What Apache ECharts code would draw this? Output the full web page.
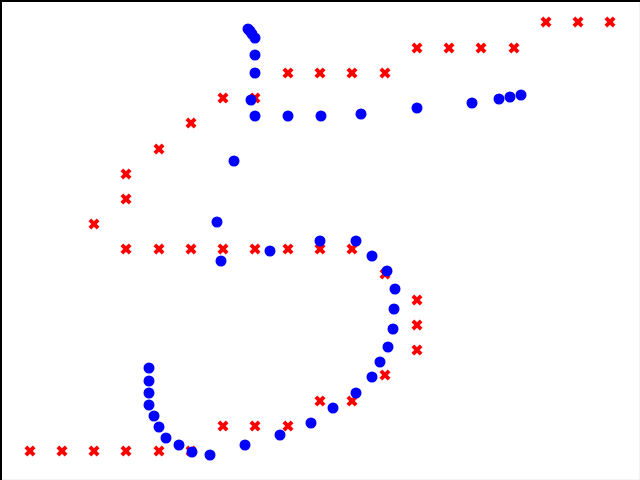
<!DOCTYPE html>
<html>
<head>
<meta charset="utf-8">
<script src="https://cdn.jsdelivr.net/npm/echarts@6/dist/echarts.min.js"></script>
<style>html,body{margin:0;padding:0;background:#fff}#c{width:640px;height:480px}</style>
</head>
<body>
<div id="c"></div>
<script>
// red cross points [x, y]
const crossX = [546,578,610, 417,449,481,514, 288,320,352,385, 223,255, 191, 159, 126, 126, 94,
  126,159,191,223,255,288,320,352, 385, 417, 417, 417, 385, 320,352, 223,255,288,
  30,62,94,126,159,191];
const crossY = [22,22,22, 48,48,48,48, 73,73,73,73, 98,98, 123, 149, 174, 199, 224,
  249,249,249,249,249,249,249,249, 274, 300, 325, 350, 375, 401,401, 426,426,426,
  451,451,451,451,451,451];
// blue circle points
const dotX = [248,250,252,255, 255,255,251,255,288,321,361,417,472,499,510,521,
  234,217,221,270,320,356,372,387,395,394,393,388,380,372,356,333,311,280,245,210,192,179,166,159,154,149,149,149,149];
const dotY = [29,31,34,38, 55,73,100,116,116,116,114,108,103,99,97,95,
  161,222,261,251,241,241,256,271,289,309,329,347,362,377,393,408,423,435,445,455,452,445,438,427,416,405,393,381,368];

const zip = (a,b)=>a.map((v,i)=>[v,b[i]]);
const chart = echarts.init(document.getElementById('c'));
chart.setOption({
  animation:false,
  grid:{left:0,right:0,top:0,bottom:0,show:true,borderColor:'#e6e6e6',borderWidth:1},
  xAxis:{type:'value',min:0,max:640,position:'top',
    axisLine:{show:true,onZero:false,lineStyle:{color:'#000',width:3}},
    axisTick:{show:false},axisLabel:{show:false},splitLine:{show:false}},
  yAxis:{type:'value',min:0,max:480,inverse:true,
    axisLine:{show:true,onZero:false,lineStyle:{color:'#000',width:3}},
    axisTick:{show:false},axisLabel:{show:false},splitLine:{show:false}},
  series:[
    {type:'scatter',data:zip(crossX,crossY),symbol:'path://M0,3 L3,0 L6,3 L9,0 L12,3 L9,6 L12,9 L9,12 L6,9 L3,12 L0,9 L3,6 Z',
     symbolSize:11,itemStyle:{color:'#ff0000',opacity:1}},
    {type:'scatter',data:zip(dotX,dotY),symbol:'circle',symbolSize:11,itemStyle:{color:'#0000ff',opacity:1}}
  ]
});
</script>
</body>
</html>
